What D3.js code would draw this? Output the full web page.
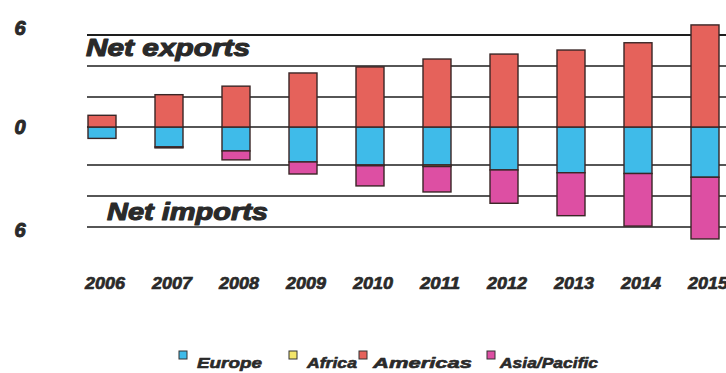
<!DOCTYPE html>
<html><head><meta charset="utf-8">
<script src="https://cdn.jsdelivr.net/npm/d3@7"></script>
<style>html,body{margin:0;padding:0;background:#fff;}svg{display:block;}</style>
</head><body>
<svg id="chart" width="726" height="373"></svg>
<script>
// ---- data ----
const years = ["2006","2007","2008","2009","2010","2011","2012","2013","2014","2015"];
const regions = ["Europe","Africa","Americas","Asia/Pacific"];
const americas = [0.78, 2.15, 2.7, 3.55, 3.94, 4.45, 4.77, 5.03, 5.5, 6.65];
const europe   = [-0.6, -1.05, -1.26, -1.84, -2.0, -2.0, -2.32, -2.5, -2.55, -2.79];
const africa   = [0, 0, 0, 0, -0.05, -0.1, 0, 0, 0, 0];
const asiaPac  = [0, -0.05, -0.47, -0.74, -1.3, -1.64, -2.15, -2.77, -3.39, -3.98];
const gridValues = [6, 4, 2, 0, -2, -4, -6];
const tickValues = [6, 0, -6];
const tickLabels = ["6", "0", "6"];
const annotations = ["Net exports", "Net imports"];

// ---- setup ----
const svg = d3.select("#chart");
const colors = {"Europe":"#3fbbe9","Africa":"#f3e56a","Americas":"#e5625b","Asia/Pacific":"#dd4fa3"};
const font = "'Liberation Sans', Arial, sans-serif";
const ink = "#2a2a2a";

const x = d3.scalePoint().domain(years).range([102, 705]);
const barW = 28;
const y = d3.scaleLinear().domain(gridValues).range([35, 66, 97, 127, 165, 196, 227]);

const rows = years.map((yr, i) => ({year: yr, "Europe": europe[i], "Africa": africa[i], "Americas": americas[i], "Asia/Pacific": asiaPac[i]}));
const stack = d3.stack().keys(regions).offset(d3.stackOffsetDiverging)(rows);

function heavy(sel, sw) {
  return sel.attr("font-family", font).attr("font-weight", "bold").attr("font-style", "italic")
    .attr("fill", ink).attr("stroke", ink).attr("stroke-width", sw).attr("stroke-linejoin", "round");
}

// gridlines
svg.append("g").selectAll("line").data(gridValues).join("line")
  .attr("x1", 87).attr("x2", 726)
  .attr("y1", d => y(d)).attr("y2", d => y(d))
  .attr("stroke", "#1e1e1e").attr("stroke-width", d => d === 6 ? 2 : 1.6);

// annotation labels
heavy(svg.append("text").text(annotations[0])
  .attr("x", 86).attr("y", 56)
  .attr("textLength", 164).attr("lengthAdjust", "spacingAndGlyphs")
  .attr("font-size", 24), 1.1);
heavy(svg.append("text").text(annotations[1])
  .attr("x", 107).attr("y", 220)
  .attr("textLength", 161).attr("lengthAdjust", "spacingAndGlyphs")
  .attr("font-size", 24), 1.1);

// bars
svg.append("g").selectAll("g").data(stack).join("g")
  .attr("fill", d => colors[d.key])
  .selectAll("rect").data(d => d).join("rect")
  .attr("x", d => x(d.data.year) - barW / 2)
  .attr("width", barW)
  .attr("y", d => Math.min(y(d[0]), y(d[1])))
  .attr("height", d => Math.abs(y(d[0]) - y(d[1])))
  .attr("stroke", "#3a2626").attr("stroke-width", d => Math.abs(y(d[0]) - y(d[1])) > 0.5 ? 1.4 : 0);

// y tick labels
heavy(svg.append("g").selectAll("text").data(tickValues).join("text")
  .attr("x", 20)
  .attr("y", d => y(d) + (d > 0 ? -7 : d < 0 ? 3 : 0))
  .attr("dy", "0.35em")
  .attr("text-anchor", "middle")
  .attr("font-size", 20)
  .text((d, i) => tickLabels[i]), 1);

// x labels
heavy(svg.append("g").selectAll("text").data(years).join("text")
  .attr("x", d => x(d) + 3)
  .attr("y", 289)
  .attr("text-anchor", "middle")
  .attr("textLength", 40).attr("lengthAdjust", "spacingAndGlyphs")
  .attr("font-size", 17)
  .text(d => d), 0.7);

// legend
const legX = [179, 289, 359, 487];
const legW = [65, 50, 99, 98];
const leg = svg.append("g").selectAll("g").data(regions).join("g")
  .attr("transform", (d, i) => `translate(${legX[i]},0)`);
leg.append("rect").attr("x", 0).attr("y", 351).attr("width", 8).attr("height", 8)
  .attr("fill", d => colors[d]).attr("stroke", "#333").attr("stroke-width", 1);
heavy(leg.append("text").attr("x", (d, i) => i === 2 ? 14 : i === 3 ? 13 : 18).attr("y", 368)
  .attr("textLength", (d, i) => legW[i]).attr("lengthAdjust", "spacingAndGlyphs")
  .attr("font-size", 15)
  .text(d => d), 0.6);
</script>
</body></html>
